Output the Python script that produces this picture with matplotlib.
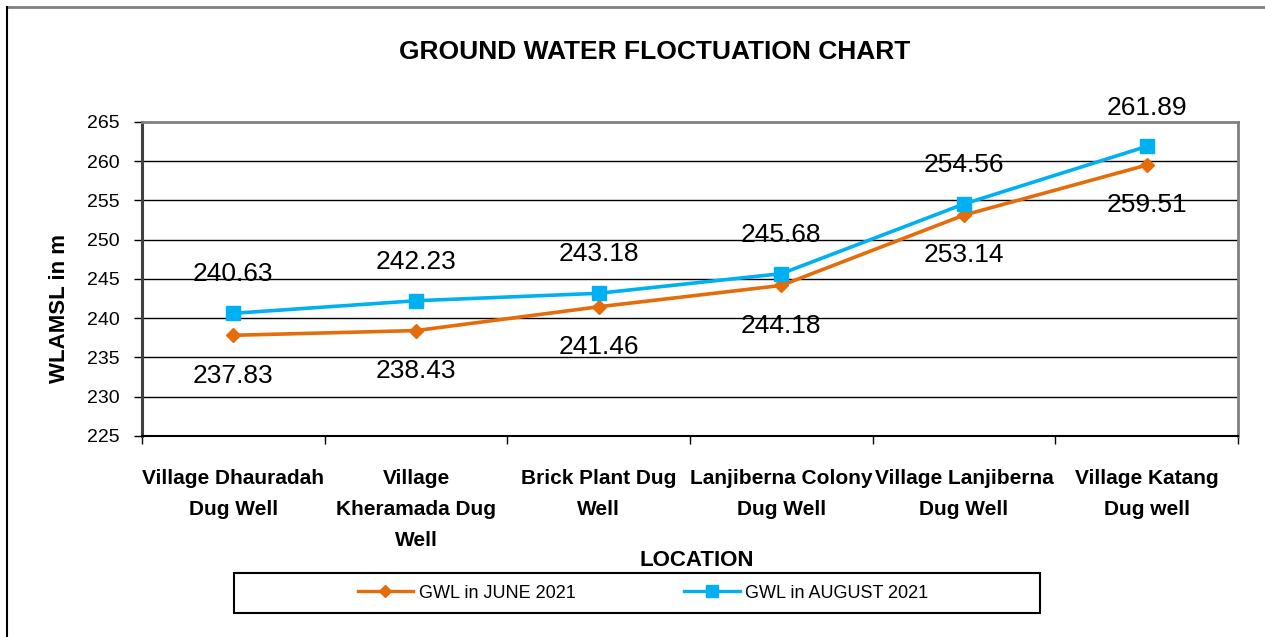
import matplotlib
matplotlib.use("Agg")
import matplotlib.pyplot as plt
from matplotlib.lines import Line2D
from matplotlib.patches import Rectangle

categories = ["Village Dhauradah\nDug Well", "Village\nKheramada Dug\nWell",
              "Brick Plant Dug\nWell", "Lanjiberna Colony\nDug Well",
              "Village Lanjiberna\nDug Well", "Village Katang\nDug well"]
june = [237.83, 238.43, 241.46, 244.18, 253.14, 259.51]
august = [240.63, 242.23, 243.18, 245.68, 254.56, 261.89]
yticks = [225, 230, 235, 240, 245, 250, 255, 260, 265]

REG = ["Liberation Sans", "DejaVu Sans"]
W, H = 1265, 637
fig = plt.figure(figsize=(W / 100, H / 100), dpi=100)
ax = fig.add_axes([142 / W, 1 - 436 / H, (1238 - 142) / W, (436 - 122) / H])

x = list(range(len(categories)))
orange = "#E46C0A"
blue = "#00B0F0"
ax.plot(x, june, color=orange, lw=2.6, marker="D", markersize=7, zorder=3)
ax.plot(x, august, color=blue, lw=2.6, marker="s", markersize=10, zorder=4)

for xi, v in zip(x, june):
    ax.annotate(f"{v:.2f}", (xi, v), xytext=(0, -29), textcoords="offset points",
                ha="center", va="center", fontsize=19, family=REG)
for xi, v in zip(x, august):
    ax.annotate(f"{v:.2f}", (xi, v), xytext=(0, 28), textcoords="offset points",
                ha="center", va="center", fontsize=19, family=REG,
                annotation_clip=False)

ax.set_xlim(-0.5, len(categories) - 0.5)
ax.set_ylim(225, 265)
ax.set_yticks(yticks)
ax.set_yticklabels([str(t) for t in yticks], family=REG, fontsize=14)
ax.tick_params(axis="y", direction="out", length=6, width=1, pad=10)
for t in yticks[1:-1]:
    ax.axhline(t, color="black", lw=1, zorder=1)

ax.set_xticks(x)
ax.set_xticklabels(categories, family=REG, fontsize=15, fontweight="bold")
for lbl in ax.get_xticklabels():
    lbl.set_linespacing(1.78)
ax.tick_params(axis="x", which="major", length=0, pad=24)
ax.set_xticks([i - 0.5 for i in range(len(categories) + 1)], minor=True)
ax.tick_params(axis="x", which="minor", direction="out", length=6, width=1)

ax.spines["top"].set_color("#808080")
ax.spines["top"].set_linewidth(2)
ax.spines["right"].set_color("#808080")
ax.spines["right"].set_linewidth(2)
ax.spines["left"].set_color("#404040")
ax.spines["left"].set_linewidth(2.2)
ax.spines["bottom"].set_color("black")
ax.spines["bottom"].set_linewidth(1.5)

fig.text(655 / W, 1 - 52 / H, "GROUND WATER FLOCTUATION CHART", ha="center", va="center",
         fontsize=19, fontweight="bold", family=REG)
fig.text(60 / W, 1 - 308 / H, "WLAMSL in m", ha="center", va="center", rotation=90,
         fontsize=16, fontweight="bold", family=REG)
fig.text(697 / W, 1 - 560 / H, "LOCATION", ha="center", va="center",
         fontsize=16, fontweight="bold", family=REG)

# legend box
fig.patches.append(Rectangle((234 / W, 1 - 613 / H), (1040 - 234) / W, 40 / H,
                             transform=fig.transFigure, fill=False, edgecolor="black", lw=1.5))
handles = [Line2D([], [], color=orange, lw=2.4, marker="D", markersize=6),
           Line2D([], [], color=blue, lw=2.4, marker="s", markersize=8)]
fig.legend(handles, ["GWL in JUNE 2021", "GWL in AUGUST 2021"], loc="center",
           bbox_to_anchor=(643 / W, 1 - 593 / H), ncol=2, frameon=False,
           prop={"family": REG, "size": 13}, handlelength=3.1, handletextpad=0.3,
           columnspacing=6)

# outer border (top and left)
fig.add_artist(Line2D([7 / W, 1264 / W], [1 - 7 / H, 1 - 7 / H], transform=fig.transFigure,
                      color="#808080", lw=2))
fig.add_artist(Line2D([7 / W, 7 / W], [1 - 7 / H, 0], transform=fig.transFigure,
                      color="black", lw=1.5))

fig.savefig("out.png", dpi=100)
